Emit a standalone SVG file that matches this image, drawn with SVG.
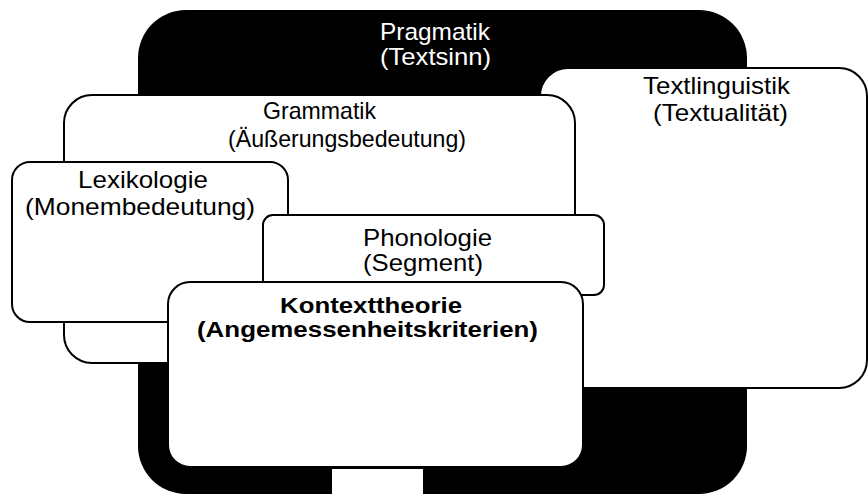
<svg xmlns="http://www.w3.org/2000/svg" width="868" height="494" viewBox="0 0 868 494">
<style>
.box{fill:#fff;stroke:#000;stroke-width:2}
.t{font-family:"Liberation Sans",Arial,sans-serif;font-size:24px;fill:#000}
.b{font-weight:bold;font-size:22px}
.w{fill:#fff}
</style>
<rect width="868" height="494" fill="#fff"/>
<g id="pragmatik">
<rect x="138" y="10" width="609" height="484" rx="48" fill="#000"/>
<text class="t w" x="380" y="40" textLength="110" lengthAdjust="spacingAndGlyphs">Pragmatik</text>
<text class="t w" x="380" y="65" textLength="111" lengthAdjust="spacingAndGlyphs">(Textsinn)</text>
</g>
<g id="textlinguistik">
<rect class="box" x="540" y="68" width="327" height="320" rx="28"/>
<text class="t" x="643" y="94" textLength="147" lengthAdjust="spacingAndGlyphs">Textlinguistik</text>
<text class="t" x="653" y="121" textLength="135" lengthAdjust="spacingAndGlyphs">(Textualität)</text>
</g>
<g id="grammatik">
<rect class="box" x="64" y="95" width="511" height="268" rx="28"/>
<text class="t" x="263" y="119" textLength="113" lengthAdjust="spacingAndGlyphs">Grammatik</text>
<text class="t" x="228" y="147" textLength="238" lengthAdjust="spacingAndGlyphs">(Äußerungsbedeutung)</text>
</g>
<g id="lexikologie">
<rect class="box" x="12" y="162" width="276" height="160" rx="18"/>
<text class="t" x="78" y="188" textLength="130" lengthAdjust="spacingAndGlyphs">Lexikologie</text>
<text class="t" x="25" y="215" textLength="230" lengthAdjust="spacingAndGlyphs">(Monembedeutung)</text>
</g>
<g id="phonologie">
<rect class="box" x="263" y="215" width="341" height="80" rx="10" stroke-width="2.5"/>
<text class="t" x="363" y="246" textLength="129" lengthAdjust="spacingAndGlyphs">Phonologie</text>
<text class="t" x="363" y="271" textLength="120" lengthAdjust="spacingAndGlyphs">(Segment)</text>
</g>
<g id="kontexttheorie">
<rect class="box" x="168" y="282" width="415" height="185" rx="22" stroke-width="4"/>
<rect x="332" y="469" width="91" height="25" fill="#fff"/>
<text class="t b" x="280" y="313" textLength="182" lengthAdjust="spacingAndGlyphs">Kontexttheorie</text>
<text class="t b" x="197" y="337" textLength="341" lengthAdjust="spacingAndGlyphs">(Angemessenheitskriterien)</text>
</g>
<g id="connectors"></g>
</svg>
